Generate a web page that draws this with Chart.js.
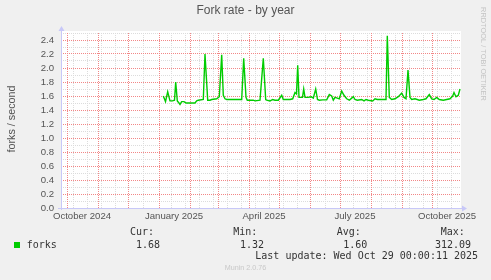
<!DOCTYPE html>
<html>
<head>
<meta charset="utf-8">
<title>Fork rate - by year</title>
<script src="https://cdn.jsdelivr.net/npm/chart.js@4.4.1/dist/chart.umd.min.js"></script>
<style>
  html, body { margin: 0; padding: 0; background: #f0f0f0; }
  #wrap { width: 491px; height: 280px; }
</style>
</head>
<body>
<div id="wrap"><canvas id="forkChart" width="491" height="280"></canvas></div>
<script>
/* Munin style "Fork rate - by year" graph */

// data: day offsets from graph start (2024-09-25) and forks/second
const dataDays = [102.3, 104.5, 106.7, 109, 111.5, 113.5, 114.7, 116.3, 118, 119, 120.7, 123, 125, 129, 134,
  135.7, 137.3, 142.3, 144, 146.7, 149, 150.7, 155.7, 158.3, 160.7, 162.3, 164, 165.7, 180.7, 182.7,
  185, 186.3, 192.3, 194, 199, 202.3, 204.7, 205.7, 209, 211.7, 214, 217.3, 220.7, 222.3, 229,
  231.7, 234, 235.5, 236.7, 238, 241.5, 242.7, 244, 247, 250.3, 252.3, 254.7, 256.5, 258.3, 261.7,
  265.7, 268.3, 270.7, 272.3, 274, 276.3, 278.3, 280.7, 283, 285.7, 288.3, 290.7, 292.3, 294, 296.3,
  300.7, 303, 305, 307.3, 311.7, 314, 316.3, 325, 326.3, 328.3, 330.7, 334, 337.3, 340.7, 343,
  345, 347, 349, 350.7, 354, 358.3, 362.3, 365, 368.3, 370.7, 373, 375.7, 378.3, 382.3, 385.7,
  389, 391.7, 393, 395, 397.3, 399];
const forks = [1.60, 1.52, 1.66, 1.53, 1.53, 1.54, 1.80, 1.53, 1.50, 1.48, 1.52, 1.52, 1.50, 1.50, 1.50,
  1.53, 1.54, 1.55, 2.20, 1.54, 1.54, 1.55, 1.56, 1.59, 2.19, 1.61, 1.56, 1.55, 1.55, 2.14,
  1.58, 1.54, 1.54, 1.53, 1.54, 2.14, 1.55, 1.54, 1.53, 1.55, 1.54, 1.54, 1.61, 1.55, 1.55,
  1.56, 1.65, 1.63, 2.04, 1.58, 1.58, 1.70, 1.58, 1.58, 1.59, 1.57, 1.70, 1.55, 1.54, 1.545,
  1.545, 1.62, 1.60, 1.54, 1.58, 1.57, 1.56, 1.67, 1.61, 1.56, 1.54, 1.57, 1.59, 1.55, 1.54,
  1.55, 1.53, 1.55, 1.54, 1.53, 1.56, 1.55, 1.55, 2.46, 1.58, 1.55, 1.56, 1.59, 1.64, 1.58,
  1.56, 1.97, 1.58, 1.55, 1.56, 1.54, 1.55, 1.56, 1.62, 1.56, 1.55, 1.58, 1.55, 1.54, 1.55,
  1.56, 1.60, 1.65, 1.59, 1.61, 1.70];

// axis labels
const yTicks = [0.0, 0.2, 0.4, 0.6, 0.8, 1.0, 1.2, 1.4, 1.6, 1.8, 2.0, 2.2, 2.4];
const xTickLabels = ['October 2024', 'January 2025', 'April 2025', 'July 2025', 'October 2025'];
const xTickDates = ['2024-10-16', '2025-01-16', '2025-04-16', '2025-07-16', '2025-10-16'];

// legend
const statNames = ['Cur:', 'Min:', 'Avg:', 'Max:'];
const statValues = ['1.68', '1.32', '1.60', '312.09'];

const START = Date.UTC(2024, 8, 25);
const SPAN_DAYS = 400;
const Y_MAX = 2.5;
const DAY = 86400000;
const dayOf = t => (t - START) / DAY;

// month starts (red) and fortnight lines (grey)
const monthDays = [];
for (let m = 9; m <= 22; m++) {
  const d = dayOf(Date.UTC(2024, m, 1));
  if (d > 0 && d < SPAN_DAYS) monthDays.push(d);
}
const fortnightDays = [];
for (let d = dayOf(Date.UTC(2024, 9, 7)); d < SPAN_DAYS; d += 14) {
  if (!monthDays.some(m => Math.abs(m - d) < 2.5)) fortnightDays.push(d);
}
// horizontal: every 0.1, red on the labelled ones
const yMinor = [];
for (let i = 1; i <= 25; i += 2) yMinor.push(i / 10);

const GRID_GREY = 'rgb(220,220,220)';
const GRID_RED = 'rgb(242,135,135)';
const AXIS = '#c8c8f8';
const TXT = '#555';

const muninDecor = {
  id: 'muninDecor',
  beforeDraw(chart) {
    const { ctx, chartArea: a } = chart;
    ctx.save();
    ctx.fillStyle = '#f0f0f0';
    ctx.fillRect(0, 0, chart.width, chart.height);
    ctx.fillStyle = '#ffffff';
    ctx.fillRect(a.left, a.top - 2, a.right - a.left, a.bottom - a.top + 2);
    ctx.restore();
  },
  // dotted rrdtool grid (1 on / 1 off), placed through the chart scales
  beforeDatasetsDraw(chart) {
    const { ctx, chartArea: a, scales } = chart;
    const top = Math.round(a.top), bot = Math.round(a.bottom);
    const left = Math.round(a.left), right = Math.round(a.right);
    const vline = (d, col) => {
      const px = Math.floor(scales.x.getPixelForValue(d));
      ctx.fillStyle = col;
      for (let y = top; y < bot; y += 2) ctx.fillRect(px, y, 1, 1);
    };
    const hline = (v, col) => {
      const py = Math.floor(scales.y.getPixelForValue(v));
      ctx.fillStyle = col;
      for (let x = left; x < right; x += 2) ctx.fillRect(x, py, 1, 1);
    };
    ctx.save();
    fortnightDays.forEach(d => vline(d, GRID_GREY));
    yMinor.forEach(v => hline(v, GRID_GREY));
    monthDays.forEach(d => vline(d, GRID_RED));
    yTicks.forEach(v => hline(v, GRID_RED));
    ctx.restore();
  },
  afterDraw(chart) {
    const { ctx, chartArea: a } = chart;
    ctx.save();

    // axes + arrows
    ctx.strokeStyle = AXIS;
    ctx.fillStyle = AXIS;
    ctx.lineWidth = 1;
    ctx.lineCap = 'butt';
    ctx.setLineDash([]);
    ctx.beginPath();
    ctx.moveTo(a.left + 0.5, a.bottom + 2);
    ctx.lineTo(a.left + 0.5, a.top - 3);
    ctx.moveTo(a.left - 3, a.bottom + 0.5);
    ctx.lineTo(a.right + 2, a.bottom + 0.5);
    ctx.stroke();
    ctx.beginPath();
    ctx.moveTo(a.left - 2.5, a.top - 2);
    ctx.lineTo(a.left + 3.5, a.top - 2);
    ctx.lineTo(a.left + 0.5, a.top - 7);
    ctx.closePath();
    ctx.fill();
    ctx.beginPath();
    ctx.moveTo(a.right + 1, a.bottom - 2.5);
    ctx.lineTo(a.right + 1, a.bottom + 3.5);
    ctx.lineTo(a.right + 6, a.bottom + 0.5);
    ctx.closePath();
    ctx.fill();

    // title
    ctx.fillStyle = TXT;
    ctx.textAlign = 'center';
    ctx.textBaseline = 'middle';
    ctx.font = '12px "Liberation Sans", Arial, sans-serif';
    ctx.fillText('Fork rate - by year', 245.5, 11);

    // vertical axis title
    ctx.save();
    ctx.translate(12, 119);
    ctx.rotate(-Math.PI / 2);
    ctx.font = '10.8px "Liberation Sans", Arial, sans-serif';
    ctx.fillText('forks / second', 0, 0);
    ctx.restore();

    // rrdtool watermark
    ctx.save();
    ctx.translate(483, 54);
    ctx.rotate(Math.PI / 2);
    ctx.fillStyle = '#c4c4c4';
    ctx.font = '7.4px "Liberation Sans", Arial, sans-serif';
    ctx.fillText('RRDTOOL / TOBI OETIKER', 0, 0);
    ctx.restore();

    // legend
    ctx.textAlign = 'left';
    ctx.fillStyle = '#00cc00';
    ctx.fillRect(14, 242, 6, 6);
    ctx.fillStyle = '#333';
    ctx.font = '10px "DejaVu Sans Mono", monospace';
    ctx.fillText('forks', 26.7, 245);
    const nameX = [130, 233.3, 336.7, 440.7];
    const valX = [136, 240, 343.3, 435];
    statNames.forEach((s, i) => ctx.fillText(s, nameX[i], 232.3));
    statValues.forEach((s, i) => ctx.fillText(s, valX[i], 245));
    ctx.fillText('Last update: Wed Oct 29 00:00:11 2025', 255.3, 256.7);

    ctx.textAlign = 'center';
    ctx.fillStyle = '#c8c8c8';
    ctx.font = '7.2px "Liberation Sans", Arial, sans-serif';
    ctx.fillText('Munin 2.0.76', 245.5, 267.7);
    ctx.restore();
  }
};

const ctx = document.getElementById('forkChart').getContext('2d');
new Chart(ctx, {
  type: 'line',
  data: {
    datasets: [{
      label: 'forks',
      data: dataDays.map((d, i) => ({ x: d, y: forks[i] })),
      borderColor: '#00cc00',
      borderWidth: 1.4,
      pointRadius: 0,
      tension: 0,
      fill: false
    }]
  },
  options: {
    responsive: false,
    animation: false,
    devicePixelRatio: 1,
    layout: { padding: { top: 33, right: 30, bottom: 0, left: 0 } },
    plugins: { legend: { display: false }, tooltip: { enabled: false }, title: { display: false } },
    scales: {
      x: {
        type: 'linear',
        position: 'bottom',
        min: 0,
        max: SPAN_DAYS,
        afterBuildTicks: s => { s.ticks = xTickDates.map(t => ({ value: dayOf(Date.parse(t)) })); },
        afterFit: s => { s.height = 72; s.paddingLeft = 0; s.paddingRight = 0; },
        grid: { display: false, drawTicks: false },
        border: { display: false },
        ticks: {
          autoSkip: false,
          maxRotation: 0,
          padding: 3,
          color: TXT,
          font: { family: '"Liberation Sans", Arial, sans-serif', size: 9.6 },
          callback: (v, i) => xTickLabels[i]
        }
      },
      y: {
        min: 0,
        max: Y_MAX,
        afterBuildTicks: s => { s.ticks = yTicks.map(v => ({ value: v })); },
        afterFit: s => { s.width = 61; s.paddingTop = 0; s.paddingBottom = 0; },
        grid: { display: false, drawTicks: false },
        border: { display: false },
        ticks: {
          autoSkip: false,
          padding: 7,
          color: TXT,
          font: { family: '"Liberation Sans", Arial, sans-serif', size: 9.6 },
          callback: v => v.toFixed(1)
        }
      }
    }
  },
  plugins: [muninDecor]
});
</script>
</body>
</html>
